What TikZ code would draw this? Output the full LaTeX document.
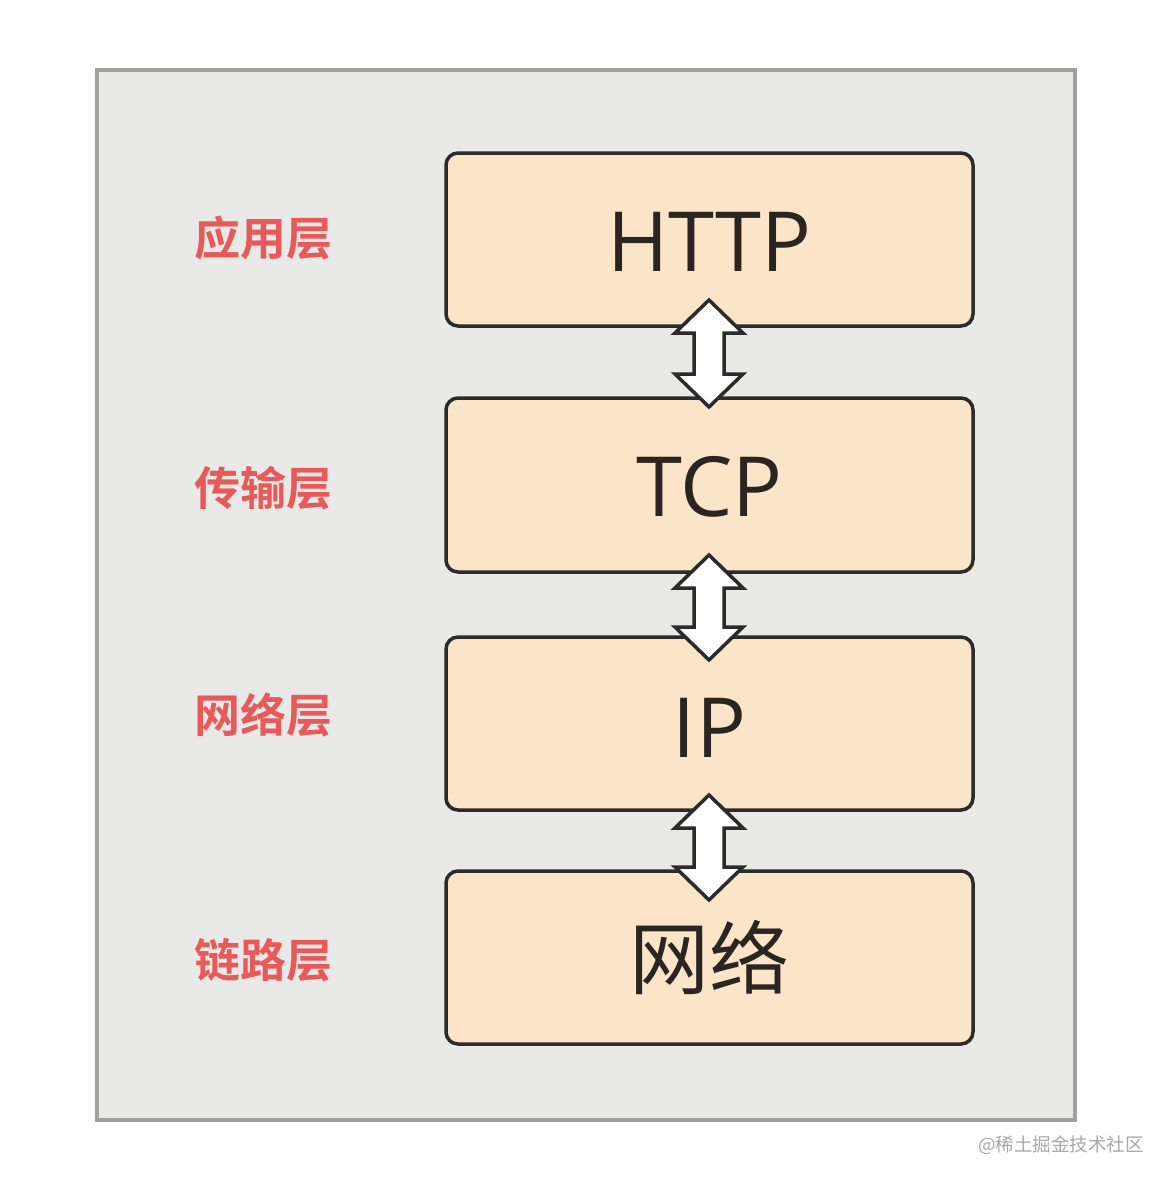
\documentclass[tikz,border=0pt]{standalone}
\usepackage{fontspec}
\setmainfont{Open Sans}
\newfontfamily\cjk{Noto Sans CJK SC}
\newfontfamily\cjkb{Noto Sans CJK SC Bold}
\definecolor{panelfill}{HTML}{E9EAE7}
\definecolor{panelline}{HTML}{A0A0A0}
\definecolor{boxfill}{HTML}{FBE5C8}
\definecolor{boxline}{HTML}{2B2B2B}
\definecolor{txt}{HTML}{2A2520}
\definecolor{lab}{HTML}{E85A5A}
\definecolor{wm}{HTML}{A8A8A8}
\newcommand\mydblarrow[4]{% name, x, ytop, ybot
  \coordinate (#1) at (#2,{(#3+#4)/2});
  \draw[arrowshape] (#2,#3) -- ({#2+34},{#3+33}) -- ({#2+15},{#3+33}) -- ({#2+15},{#4-33})
    -- ({#2+34},{#4-33}) -- (#2,#4) -- ({#2-34},{#4-33}) -- ({#2-15},{#4-33})
    -- ({#2-15},{#3+33}) -- ({#2-34},{#3+33}) -- cycle;}
\begin{document}
\begin{tikzpicture}[x=1pt,y=-1pt,
  layerbox/.style={draw=boxline, line width=3.5pt, fill=boxfill, rounded corners=12pt},
  arrowshape/.style={draw=boxline, line width=3.5pt, fill=white, line join=miter},
  boxtext/.style={text=txt, font=\fontsize{83}{90}\selectfont, inner sep=0pt},
  cjktext/.style={text=txt, font=\cjk\fontsize{80}{90}\selectfont, inner sep=0pt},
  labeltext/.style={text=lab, font=\cjkb\fontsize{46}{50}\selectfont, inner sep=0pt}]
\useasboundingbox (0,0) rectangle (1172,1184);
\fill[white] (0,0) rectangle (1172,1184);
\draw[draw=panelline, fill=panelfill, line width=4pt] (97,70) rectangle (1075,1120);
% layer boxes
\draw[layerbox] (446,153) rectangle (973,326);
\draw[layerbox] (446,398) rectangle (973,572);
\draw[layerbox] (446,637) rectangle (973,810);
\draw[layerbox] (446,871) rectangle (973,1044);
\node[boxtext] (http) at (709.5,242) {HTTP};
\node[boxtext] (tcp) at (709.5,487) {TCP};
\node[boxtext] (ip) at (709.5,728) {IP};
\node[cjktext] (net) at (709.5,957) {网络};
% arrows
\mydblarrow{a1}{709}{300}{407}
\mydblarrow{a2}{709}{555}{660}
\mydblarrow{a3}{709}{795}{900}
% labels
\node[labeltext] (l1) at (263,238) {应用层};
\node[labeltext] (l2) at (263,488) {传输层};
\node[labeltext] (l3) at (263,715) {网络层};
\node[labeltext] (l4) at (263,960) {链路层};
% watermark
\node[text=wm, font=\cjk\fontsize{18.5}{20}\selectfont, inner sep=0pt] (wmk) at (1061,1145) {@稀土掘金技术社区};
\end{tikzpicture}
\end{document}
